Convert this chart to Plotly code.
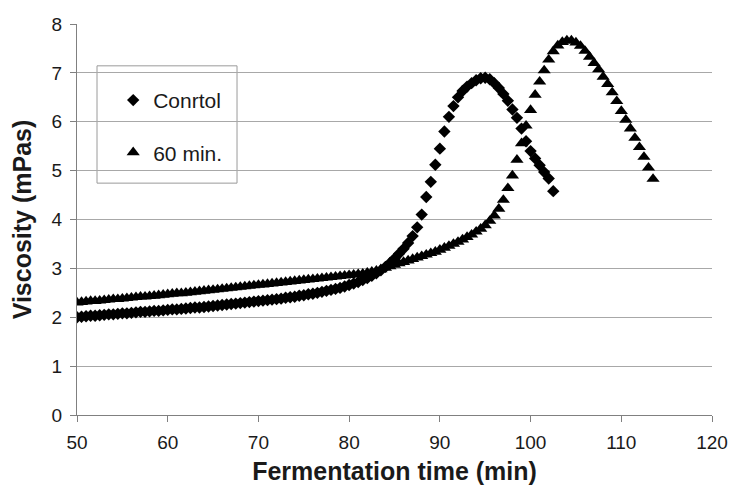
import plotly.graph_objects as go

control_time = [
    50.0, 50.5, 51.0, 51.5, 52.0, 52.5, 53.0, 53.5, 54.0, 54.5,
    55.0, 55.5, 56.0, 56.5, 57.0, 57.5, 58.0, 58.5, 59.0, 59.5,
    60.0, 60.5, 61.0, 61.5, 62.0, 62.5, 63.0, 63.5, 64.0, 64.5,
    65.0, 65.5, 66.0, 66.5, 67.0, 67.5, 68.0, 68.5, 69.0, 69.5,
    70.0, 70.5, 71.0, 71.5, 72.0, 72.5, 73.0, 73.5, 74.0, 74.5,
    75.0, 75.5, 76.0, 76.5, 77.0, 77.5, 78.0, 78.5, 79.0, 79.5,
    80.0, 80.5, 81.0, 81.5, 82.0, 82.5, 83.0, 83.5, 84.0, 84.5,
    85.0, 85.5, 86.0, 86.5, 87.0, 87.5, 88.0, 88.5, 89.0, 89.5,
    90.0, 90.5, 91.0, 91.5, 92.0, 92.5, 93.0, 93.5, 94.0, 94.5,
    95.0, 95.5, 96.0, 96.5, 97.0, 97.5, 98.0, 98.5, 99.0, 99.5,
    100.0, 100.5, 101.0, 101.5, 102.0, 102.5,
]
control_visc = [
    2.00, 2.01, 2.02, 2.03, 2.03, 2.04, 2.05, 2.06, 2.06, 2.07,
    2.08, 2.08, 2.09, 2.10, 2.11, 2.11, 2.12, 2.13, 2.13, 2.14,
    2.15, 2.16, 2.16, 2.17, 2.18, 2.19, 2.20, 2.20, 2.21, 2.22,
    2.23, 2.24, 2.25, 2.26, 2.27, 2.28, 2.29, 2.30, 2.31, 2.32,
    2.33, 2.34, 2.35, 2.36, 2.37, 2.38, 2.40, 2.41, 2.42, 2.44,
    2.45, 2.47, 2.48, 2.50, 2.52, 2.54, 2.56, 2.58, 2.60, 2.63,
    2.66, 2.69, 2.72, 2.76, 2.80, 2.85, 2.90, 2.96, 3.03, 3.11,
    3.20, 3.30, 3.40, 3.52, 3.66, 3.84, 4.10, 4.46, 4.77, 5.12,
    5.45, 5.80, 6.10, 6.32, 6.50, 6.63, 6.72, 6.79, 6.85, 6.89,
    6.90, 6.87, 6.79, 6.69, 6.57, 6.43, 6.25, 6.08, 5.86, 5.60,
    5.40, 5.25, 5.11, 4.97, 4.84, 4.58,
]

min60_time = [
    50.0, 50.5, 51.0, 51.5, 52.0, 52.5, 53.0, 53.5, 54.0, 54.5,
    55.0, 55.5, 56.0, 56.5, 57.0, 57.5, 58.0, 58.5, 59.0, 59.5,
    60.0, 60.5, 61.0, 61.5, 62.0, 62.5, 63.0, 63.5, 64.0, 64.5,
    65.0, 65.5, 66.0, 66.5, 67.0, 67.5, 68.0, 68.5, 69.0, 69.5,
    70.0, 70.5, 71.0, 71.5, 72.0, 72.5, 73.0, 73.5, 74.0, 74.5,
    75.0, 75.5, 76.0, 76.5, 77.0, 77.5, 78.0, 78.5, 79.0, 79.5,
    80.0, 80.5, 81.0, 81.5, 82.0, 82.5, 83.0, 83.5, 84.0, 84.5,
    85.0, 85.5, 86.0, 86.5, 87.0, 87.5, 88.0, 88.5, 89.0, 89.5,
    90.0, 90.5, 91.0, 91.5, 92.0, 92.5, 93.0, 93.5, 94.0, 94.5,
    95.0, 95.5, 96.0, 96.5, 97.0, 97.5, 98.0, 98.5, 99.0, 99.5,
    100.0, 100.5, 101.0, 101.5, 102.0, 102.5, 103.0, 103.5, 104.0, 104.5,
    105.0, 105.5, 106.0, 106.5, 107.0, 107.5, 108.0, 108.5, 109.0, 109.5,
    110.0, 110.5, 111.0, 111.5, 112.0, 112.5, 113.0, 113.5,
]
min60_visc = [
    2.30, 2.31, 2.32, 2.33, 2.33, 2.34, 2.35, 2.36, 2.37, 2.37,
    2.38, 2.39, 2.40, 2.41, 2.42, 2.42, 2.43, 2.44, 2.45, 2.46,
    2.47, 2.48, 2.49, 2.49, 2.50, 2.51, 2.52, 2.53, 2.54, 2.55,
    2.56, 2.57, 2.58, 2.59, 2.60, 2.61, 2.62, 2.63, 2.64, 2.65,
    2.66, 2.67, 2.68, 2.69, 2.70, 2.71, 2.72, 2.73, 2.74, 2.75,
    2.76, 2.77, 2.78, 2.79, 2.80, 2.81, 2.82, 2.83, 2.84, 2.85,
    2.86, 2.87, 2.88, 2.89, 2.91, 2.93, 2.95, 2.98, 3.01, 3.04,
    3.07, 3.10, 3.13, 3.16, 3.19, 3.22, 3.25, 3.28, 3.31, 3.34,
    3.38, 3.42, 3.46, 3.50, 3.54, 3.59, 3.64, 3.69, 3.75, 3.81,
    3.88, 3.97, 4.08, 4.22, 4.40, 4.64, 4.90, 5.22, 5.56, 5.92,
    6.24, 6.55, 6.82, 7.05, 7.27, 7.44, 7.56, 7.63, 7.66, 7.66,
    7.62, 7.55, 7.45, 7.33, 7.20, 7.07, 6.92, 6.77, 6.60, 6.42,
    6.22, 6.04, 5.86, 5.67, 5.48, 5.28, 5.06, 4.83,
]

x_ticks = [50, 60, 70, 80, 90, 100, 110, 120]
y_ticks = [0, 1, 2, 3, 4, 5, 6, 7, 8]

FONT = "Liberation Sans, Arial, sans-serif"

fig = go.Figure()
fig.add_trace(go.Scatter(
    x=control_time, y=control_visc, mode="markers", name="Conrtol",
    legendgroup="a",
    marker=dict(symbol="diamond", size=9.5, color="black"),
))
fig.add_trace(go.Scatter(
    x=min60_time, y=min60_visc, mode="markers", name="60 min.",
    legendgroup="b",
    marker=dict(symbol="triangle-up", size=11.5, color="black"),
))

# legend frame drawn as a shape so there is room left of the symbols
fig.add_shape(type="rect", xref="paper", yref="paper",
              x0=0.0315, x1=0.252, y0=0.593, y1=0.893,
              line=dict(color="#9a9a9a", width=1), fillcolor="white", layer="below")

# page body adds ~8px around the figure, so the figure is 16px smaller
fig.update_layout(
    width=733, height=491,
    margin=dict(l=69, r=29, t=16, b=84),
    paper_bgcolor="white", plot_bgcolor="white",
    font=dict(family=FONT, size=19, color="#1a1a1a"),
    showlegend=True,
    legend=dict(x=0.057, y=0.857, xanchor="left", yanchor="top",
                bgcolor="rgba(0,0,0,0)", borderwidth=0,
                font=dict(family=FONT, size=21, color="#1a1a1a"),
                tracegroupgap=22, itemsizing="trace"),
    xaxis=dict(
        range=[50, 120], tickvals=x_ticks, ticks="outside", ticklen=6,
        tickcolor="#808080", showline=True, linecolor="#808080", linewidth=1,
        showgrid=False, zeroline=False, automargin=False, ticklabelstandoff=4,
        title=dict(text="<b>Fermentation time (min)</b>", font=dict(size=25), standoff=10),
    ),
    yaxis=dict(
        range=[0, 8], tickvals=y_ticks, ticks="outside", ticklen=6,
        tickcolor="#808080", showline=True, linecolor="#808080", linewidth=1,
        showgrid=True, gridcolor="#a8a8a8", gridwidth=1, zeroline=False,
        automargin=False, ticklabelstandoff=4,
        title=dict(text="<b>Viscosity (mPas)</b>", font=dict(size=25), standoff=17),
    ),
)

fig.write_html("out.html")
